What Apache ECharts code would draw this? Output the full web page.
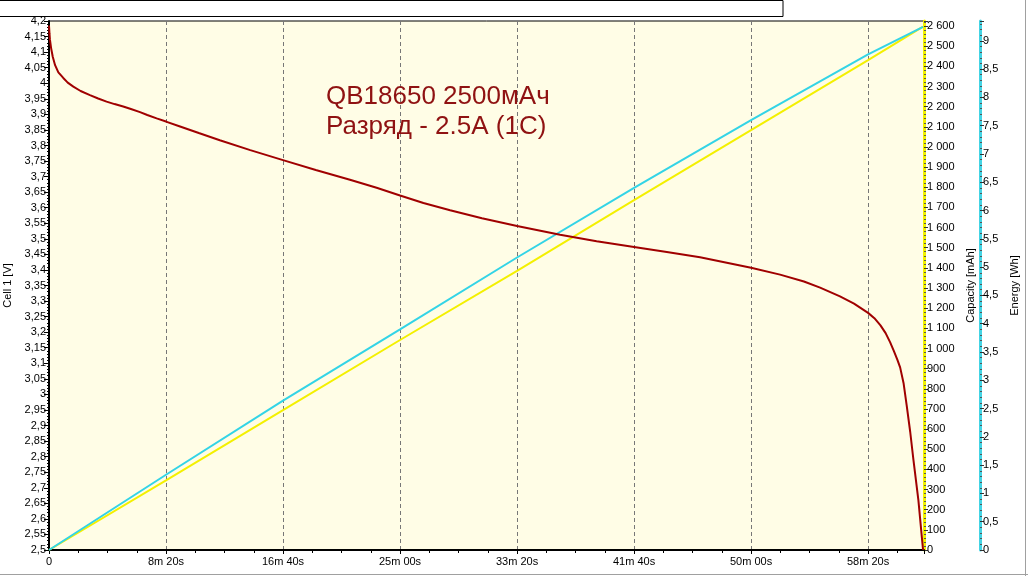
<!DOCTYPE html>
<html><head><meta charset="utf-8">
<script src="https://cdn.jsdelivr.net/npm/echarts@6/dist/echarts.min.js"></script>
<style>html,body{margin:0;padding:0;background:#fff}#c{width:1028px;height:576px}</style>
</head><body><div id="c"></div>
<script>
// ---- data ----
const titleLines = ['QB18650 2500мАч', 'Разряд - 2.5A (1C)'];
const voltTime = [0, 2, 4, 9, 16, 26, 40, 61, 80, 104, 135, 175, 210, 246, 280, 317, 350, 389, 420, 460, 503, 560, 640, 730, 860, 1000, 1140, 1286, 1400, 1500, 1600, 1714, 1850, 2000, 2184, 2340, 2500, 2640, 2782, 3000, 3124, 3226, 3295, 3380, 3440, 3500, 3527, 3553, 3575, 3594, 3610, 3625, 3637, 3652, 3665, 3680, 3694, 3715, 3731, 3735];
const voltage  = [4.185, 4.16, 4.14, 4.113, 4.085, 4.058, 4.035, 4.017, 4.002, 3.989, 3.975, 3.962, 3.951, 3.941, 3.933, 3.925, 3.917, 3.907, 3.898, 3.887, 3.876, 3.861, 3.84, 3.817, 3.785, 3.753, 3.721, 3.69, 3.664, 3.639, 3.615, 3.592, 3.566, 3.541, 3.513, 3.492, 3.474, 3.458, 3.441, 3.407, 3.385, 3.363, 3.343, 3.315, 3.292, 3.262, 3.245, 3.222, 3.197, 3.168, 3.14, 3.112, 3.087, 3.035, 2.965, 2.88, 2.789, 2.66, 2.532, 2.5];
const accTime  = [0, 500, 1000, 1500, 2000, 2500, 3000, 3500, 3735];
const capacity = [0, 345, 694, 1042, 1385, 1736, 2084, 2431, 2597];
const energy   = [0, 1.33, 2.64, 3.9, 5.17, 6.4, 7.6, 8.76, 9.245];
const xTickStep = 500;      // seconds
const xMax = 3739;
const voltRange = [2.5, 4.2, 0.05];
const capRange = [0, 2625, 100];
const enRange = [0, 9.35, 0.5];
const axisNames = ['Cell 1 [V]', 'Capacity [mAh]', 'Energy [Wh]'];

const zip = (a, b) => a.map((v, i) => [v, b[i]]);
const FONT = 'Liberation Sans, Arial, sans-serif';
const near = (v, step) => Math.abs(v / step - Math.round(v / step)) < 1e-6;
function fmtTime(t) {
  if (!near(t, xTickStep)) return '';
  if (t === 0) return '0';
  const m = Math.floor(t / 60), s = Math.round(t % 60);
  return m + 'm ' + String(s).padStart(2, '0') + 's';
}
function fmtDec(v, step) {
  if (!near(v, step)) return '';
  return String(parseFloat(v.toFixed(2))).replace('.', ',');
}
function fmtCap(v) {
  if (!near(v, 100)) return '';
  return String(Math.round(v)).replace(/\B(?=(\d{3})+(?!\d))/g, ' ');
}

const chart = echarts.init(document.getElementById('c'), null, {renderer: 'canvas'});
const lbl = {fontSize: 11, color: '#000', fontFamily: FONT};
chart.setOption({
  animation: false,
  backgroundColor: '#fff',
  title: {
    text: titleLines.join('\n'), left: 326, top: 82, padding: 0,
    textStyle: {fontSize: 26, lineHeight: 30, color: '#8f1212', fontWeight: 'normal', fontFamily: FONT}
  },
  graphic: [
    {type: 'rect', shape: {x: -1, y: 0.5, width: 784, height: 16}, style: {fill: '#fff', stroke: '#000', lineWidth: 1}},
    {type: 'line', shape: {x1: 1025.5, y1: 0, x2: 1025.5, y2: 576}, style: {stroke: '#a0a0a0', lineWidth: 1}},
    {type: 'line', shape: {x1: 0, y1: 574.5, x2: 1028, y2: 574.5}, style: {stroke: '#a0a0a0', lineWidth: 1}}
  ],
  grid: {left: 49, right: 104, top: 21, bottom: 26, outerBoundsMode: 'none', containLabel: false, show: true, backgroundColor: '#fffde6', borderColor: '#000', borderWidth: 1},
  xAxis: {
    type: 'value', min: 0, max: xMax, interval: xTickStep,
    axisLine: {lineStyle: {color: '#000', width: 2}},
    axisTick: {length: 4, lineStyle: {color: '#000'}},
    minorTick: {show: true, splitNumber: 4, length: 3, lineStyle: {color: '#000'}},
    splitLine: {show: true, lineStyle: {color: '#777', type: [4, 3], width: 1}},
    axisLabel: Object.assign({formatter: fmtTime, margin: 6, showMaxLabel: false}, lbl)
  },
  yAxis: [
    {
      type: 'value', position: 'left', min: voltRange[0], max: voltRange[1], interval: voltRange[2],
      name: axisNames[0], nameLocation: 'middle', nameGap: 35, nameTextStyle: lbl,
      axisLine: {show: true, lineStyle: {color: '#000', width: 2}},
      axisTick: {show: true, length: 5, lineStyle: {color: '#000'}},
      minorTick: {show: true, splitNumber: 5, length: 2, lineStyle: {color: '#000'}},
      splitLine: {show: false},
      axisLabel: Object.assign({formatter: v => fmtDec(v, voltRange[2]), margin: 3}, lbl)
    },
    {
      type: 'value', position: 'right', offset: 0, min: capRange[0], max: capRange[1], interval: capRange[2],
      name: axisNames[1], nameLocation: 'middle', nameGap: 41, nameTextStyle: lbl,
      axisLine: {show: true, lineStyle: {color: '#f2f200', width: 3}},
      axisTick: {show: true, length: 4, lineStyle: {color: '#333'}},
      minorTick: {show: true, splitNumber: 5, length: 2, lineStyle: {color: '#555'}},
      splitLine: {show: false},
      axisLabel: Object.assign({formatter: fmtCap, margin: 3, showMaxLabel: false}, lbl)
    },
    {
      type: 'value', position: 'right', offset: 56, min: enRange[0], max: enRange[1], interval: enRange[2],
      name: axisNames[2], nameLocation: 'middle', nameGap: 28, nameTextStyle: lbl,
      axisLine: {show: true, lineStyle: {color: '#44d4e4', width: 3}},
      axisTick: {show: true, length: 4, lineStyle: {color: '#333'}},
      minorTick: {show: true, splitNumber: 5, length: 2, lineStyle: {color: '#555'}},
      splitLine: {show: false},
      axisLabel: Object.assign({formatter: v => fmtDec(v, enRange[2]), margin: 3, showMaxLabel: false}, lbl)
    }
  ],
  series: [
    {type: 'line', yAxisIndex: 1, data: zip(accTime, capacity), showSymbol: false, lineStyle: {color: '#f4f000', width: 2}},
    {type: 'line', yAxisIndex: 2, data: zip(accTime, energy), showSymbol: false, lineStyle: {color: '#33d4e6', width: 2}},
    {type: 'line', yAxisIndex: 0, data: zip(voltTime, voltage), showSymbol: false, smooth: false, lineStyle: {color: '#a00000', width: 2}}
  ]
});
</script></body></html>
